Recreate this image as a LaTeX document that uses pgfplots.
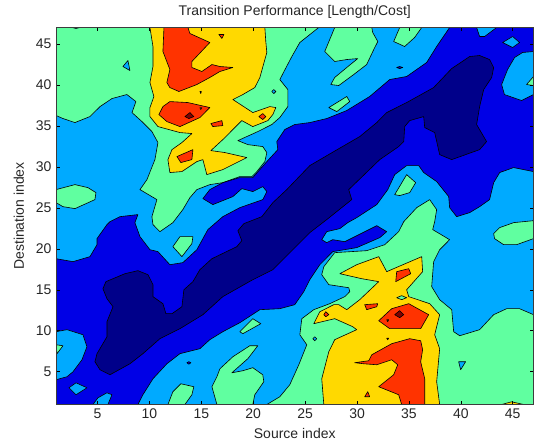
\documentclass[border=0pt]{standalone}
\usepackage{pgfplots}
\usepackage{fontspec}
\setmainfont{Liberation Sans}
\pgfplotsset{compat=1.18}
\definecolor{cNavy}{HTML}{00008A}
\definecolor{cBlue}{HTML}{0000E6}
\definecolor{cCyan}{HTML}{00AAFF}
\definecolor{cGreen}{HTML}{60FFA0}
\definecolor{cYellow}{HTML}{FFD900}
\definecolor{cRed}{HTML}{FF3300}
\definecolor{cDark}{HTML}{800000}
\definecolor{cText}{HTML}{262626}
\pgfplotsset{
  lev/.style={draw=black,line width=0.6pt,line join=round,fill=#1},
}
\begin{document}
\begin{tikzpicture}[x=1pt,y=1pt]
\useasboundingbox (0,0) rectangle (534,444);
\begin{axis}[
  at={(56pt,39.5pt)},anchor=south west,
  scale only axis,width=477.5pt,height=377pt,
  xmin=1,xmax=47,ymin=1,ymax=47,
  xtick={5,10,...,45},ytick={5,10,...,45},
  tick align=inside,tick pos=both,
  major tick length=4pt,
  tick style={color=black,line width=0.5pt},
  axis line style={color=cText!90,line width=1pt},
  axis on top,
  /pgf/number format/assume math mode=true,
  tick label style={font=\fontsize{14}{16}\selectfont,text=cText},
  xticklabel style={yshift=-1pt},
  yticklabel style={xshift=-1pt},
  title={Transition Performance [Length/Cost]},
  title style={font=\fontsize{14}{16}\selectfont,text=cText,yshift=0pt},
  xlabel={Source index},
  ylabel={Destination index},
  label style={font=\fontsize{14}{16}\selectfont,text=cText},
  xlabel style={yshift=-3pt},
  ylabel style={yshift=5pt},
]
% background level
\addplot[fill=cCyan,draw=none] coordinates {(1,1)(47,1)(47,47)(1,47)} --cycle;
% green level
\addplot[lev=cGreen] coordinates {(1,47)(26.31,47)(24.49,45.17)(23.72,43.46)(22.56,40.65)(23.33,39.43)(23.33,37.35)(22.56,36.01)(21.79,35.16)(20.44,34.30)(18.52,33.20)(19.48,32.71)(20.92,32.47)(21.31,31.74)(21.12,30.64)(20.35,29.42)(19.87,28.81)(18.71,28.81)(17.07,28.07)(15.82,27.83)(14.57,27.22)(13.90,26.24)(13.22,24.78)(12.26,23.19)(11.01,22.09)(10.34,22.95)(10.24,23.92)(10.72,26.00)(9.09,27.22)(9.76,28.44)(10.53,30.88)(10.82,32.96)(10.24,34.30)(9.28,35.52)(8.32,36.62)(8.70,37.96)(7.83,38.82)(6.39,38.33)(5.24,37.35)(4.27,36.13)(2.83,35.40)(1.67,35.89)(1,36.26)} --cycle;
\addplot[lev=cGreen] coordinates {(27.85,47)(27.37,45.53)(26.89,44.07)(27.85,42.85)(29.01,43.09)(30.07,43.21)(29.01,42.12)(27.85,40.9)(27.47,40.04)(28.24,39.92)(29.68,41.26)(30.93,42.48)(31.61,44.31)(32.0,45.29)(31.51,46.39)(31.42,47)} --cycle;
\addplot[lev=cGreen] coordinates {(34.11,47)(33.53,45.29)(34.59,44.68)(35.55,45.78)(36.23,47)} --cycle;
\addplot[lev=cGreen] coordinates {(27.28,37.23)(29.01,38.58)(29.30,37.96)(28.05,36.74)} --cycle;
\addplot[lev=cGreen] coordinates {(21.31,1)(22.56,1.95)(23.52,3.41)(24.39,5.85)(25.16,8.29)(24.49,9.51)(24.68,11.47)(25.83,12.57)(27.37,13.30)(28.82,14.16)(29.30,14.77)(29.20,15.25)(27.28,15.62)(26.60,16.84)(26.80,17.82)(27.85,19.53)(30.93,19.77)(32.67,20.50)(34.01,22.09)(34.5,23.31)(35.75,25.02)(37.0,26.0)(37.67,24.78)(37.48,23.31)(37.29,22.34)(38.92,21.11)(37.96,19.89)(37.38,18.43)(37.19,15.38)(37.96,13.79)(39.12,12.57)(39.31,9.88)(39.89,9.39)(41.81,10.13)(43.16,11.96)(44.41,12.69)(45.66,12.69)(47,11.96)(47,1)} --cycle;
\addplot[lev=cGreen] coordinates {(43.16,21.85)(43.74,22.58)(45.08,23.19)(47,23.43)(47,21.24)(45.37,20.50)(44.12,20.50)(43.25,21.24)} --cycle;
\addplot[lev=cGreen] coordinates {(1,27.22)(2.83,27.83)(4.08,27.46)(4.85,26.85)(4.75,26.0)(2.83,24.90)(1.67,25.14)(1,25.63)} --cycle;
\addplot[lev=cGreen] coordinates {(12.26,20.26)(12.94,21.48)(14.19,21.48)(14.09,20.63)(13.13,19.04)} --cycle;
\addplot[lev=cGreen] coordinates {(18.71,9.88)(19.96,11.47)(20.73,10.86)(19.0,9.64)} --cycle;
\addplot[lev=cGreen] coordinates {(11.78,1)(12.26,2.56)(13.03,3.53)(14.28,3.17)(14.09,2.19)(13.42,1)} --cycle;
\addplot[lev=cGreen] coordinates {(16.50,1)(16.02,3.17)(16.50,4.39)(16.79,5.36)(18.04,6.83)(19.67,8.17)(20.44,8.17)(19.48,6.59)(17.94,4.87)(19.0,5.12)(19.96,5.49)(20.92,4.63)(21.02,3.78)(20.15,2.19)(19.96,1)} --cycle;
\addplot[lev=cGreen] coordinates {(33.63,26.61)(34.78,29.05)(35.65,28.07)(35.07,26.85)(34.11,26.49)} --cycle;
% yellow level
\addplot[lev=cYellow] coordinates {(10.05,47)(21.12,47)(21.21,45.29)(21.31,43.95)(20.64,40.9)(20.15,39.67)(19.0,38.82)(18.04,38.21)(19.96,36.62)(21.60,37.35)(22.18,37.23)(21.89,36.38)(21.41,35.64)(19.96,34.91)(18.90,35.64)(17.07,33.32)(15.92,31.98)(17.27,31.74)(19.38,31.13)(17.07,29.66)(15.53,29.05)(15.15,30.88)(14.57,30.64)(13.13,29.42)(11.97,29.30)(11.78,30.88)(12.17,32.10)(13.13,32.96)(14.09,34.06)(12.94,34.18)(10.82,34.91)(10.05,36.13)(10.05,37.23)(10.43,38.58)(10.05,40.28)(10.34,42.24)(10.34,44.68)} --cycle;
\addplot[lev=cYellow] coordinates {(26.80,1)(26.60,4.14)(27.28,7.44)(27.85,8.91)(29.97,10.13)(29.59,10.49)(27.85,11.47)(25.83,10.86)(26.41,12.32)(27.76,13.18)(28.24,13.18)(29.01,12.57)(30.26,13.79)(32.09,15.99)(30.45,16.35)(28.34,16.96)(29.97,18.06)(32.09,19.04)(32.86,17.21)(36.23,19.04)(36.32,17.21)(34.78,15.0)(34.98,14.16)(37.0,13.30)(37.96,11.96)(37.48,9.51)(37.96,7.81)(37.67,3.78)(37.96,1)} --cycle;
% red level
\addplot[lev=cRed] coordinates {(11.40,47)(11.30,44.07)(11.97,41.87)(11.68,40.28)(11.97,39.67)(12.84,39.19)(14.57,40.04)(15.82,40.9)(16.79,41.63)(18.04,42.12)(16.79,42.24)(16.02,42.48)(15.05,41.63)(14.09,42.12)(14.09,42.85)(15.82,45.17)(13.90,46.27)(13.71,47)} --cycle;
\addplot[lev=cRed] coordinates {(10.91,36.38)(11.30,37.35)(11.97,37.96)(13.71,37.84)(15.82,37.23)(14.86,36.01)(12.94,34.91)(11.68,35.52)} --cycle;
\addplot[lev=cRed] coordinates {(15.92,35.28)(16.98,35.64)(17.07,35.03)(16.11,34.91)} --cycle;
\addplot[lev=cRed] coordinates {(12.65,31.25)(14.19,32.10)(14.09,30.88)(13.03,30.52)} --cycle;
\addplot[lev=cRed] coordinates {(16.69,46.15)(17.17,46.15)(16.98,45.66)} --cycle;
\addplot[lev=cRed] coordinates {(20.54,36.13)(20.92,36.5)(21.21,36.13)(20.92,35.77)} --cycle;
\addplot[lev=cRed] coordinates {(33.73,15.99)(33.82,17.21)(34.98,17.57)(35.17,16.96)} --cycle;
\addplot[lev=cRed] coordinates {(30.74,13.18)(31.99,13.30)(31.90,12.93)(30.93,12.57)} --cycle;
\addplot[lev=cRed] coordinates {(32.09,11.22)(33.34,12.69)(34.98,13.30)(36.9,11.96)(36.13,10.25)(33.15,10.25)} --cycle;
\addplot[lev=cRed] coordinates {(29.78,6.10)(31.13,6.34)(31.42,7.07)(33.34,8.42)(35.07,9.03)(36.13,8.78)(36.32,7.68)(36.13,6.22)(36.52,4.14)(36.52,1)(34.30,1)(34.01,2.19)(32.09,3.17)(33.53,4.63)(33.92,5.85)(33.34,6.46)(31.90,5.85)(30.65,5.97)} --cycle;
\addplot[lev=cRed] coordinates {(30.74,1.95)(31.03,2.56)(31.22,1.95)} --cycle;
\addplot[lev=cRed] coordinates {(26.80,11.96)(26.99,12.32)(27.28,11.96)(26.99,11.71)} --cycle;
\addplot[lev=cRed] coordinates {(14.86,39.19)(15.0,39.19)(14.95,38.94)} --cycle;
\addplot[lev=cRed] coordinates {(32.86,9.09)(33.05,9.09)(32.95,8.9)} --cycle;
% darkest level
\addplot[lev=cDark] coordinates {(13.42,36.13)(13.90,36.62)(14.28,36.13)(13.80,35.89)} --cycle;
\addplot[lev=cDark] coordinates {(33.63,11.96)(34.11,12.45)(34.5,11.96)(34.11,11.59)} --cycle;
% small holes
\addplot[lev=cYellow] coordinates {(14.86,37.23)(15.05,37.23)(14.95,36.99)} --cycle;
\addplot[lev=cYellow] coordinates {(32.86,11.34)(33.05,11.34)(32.95,11.10)} --cycle;
\addplot[lev=cYellow] coordinates {(43.93,1)(44.89,1.33)(46.05,1)} --cycle;
\addplot[lev=cGreen] coordinates {(33.82,14.03)(34.30,14.28)(34.78,14.03)(34.30,13.79)} --cycle;
\addplot[lev=cCyan] coordinates {(21.79,39.19)(21.98,39.43)(22.18,39.19)(21.98,38.94)} --cycle;
\addplot[lev=cCyan] coordinates {(25.74,9.03)(25.93,9.27)(26.12,9.03)(25.93,8.78)} --cycle;
\addplot[lev=cCyan] coordinates {(7.45,42.24)(7.93,42.97)(8.12,41.75)} --cycle;
\addplot[lev=cCyan] coordinates {(39.79,6.22)(40.46,6.22)(39.98,5.24)} --cycle;
\addplot[lev=cCyan] coordinates {(2.54,47)(2.93,46.88)(3.31,47)} --cycle;
% blue level
\addplot[lev=cBlue] coordinates {(1,18.79)(2.64,18.43)(4.27,19.04)(4.95,20.50)(4.95,21.24)(5.91,22.95)(6.20,23.31)(7.16,23.92)(8.89,24.17)(8.60,23.19)(9.09,21.48)(10.05,19.89)(10.82,19.65)(11.97,18.06)(13.22,18.31)(14.57,19.89)(15.63,22.34)(17.07,23.92)(18.71,25.02)(20.92,26.0)(21.31,26.98)(20.92,27.59)(19.96,26.98)(18.90,27.34)(18.04,26.37)(16.11,25.39)(15.15,26.12)(15.82,27.22)(17.07,28.07)(18.71,28.69)(19.96,28.69)(21.31,30.64)(22.37,32.10)(22.27,33.08)(23.04,34.55)(24.00,35.16)(25.45,35.40)(27.08,35.89)(29.01,36.87)(31.22,38.58)(33.15,40.65)(34.78,41.02)(36.71,42.73)(37.67,44.68)(38.92,47)(47,47)(47,29.42)(45.08,29.91)(43.74,29.30)(43.16,28.07)(42.77,26.0)(41.81,25.14)(40.85,24.41)(39.60,23.92)(38.92,25.02)(38.83,26.37)(37.67,28.20)(36.42,29.30)(35.94,30.15)(34.78,30.15)(33.63,29.05)(32.96,27.22)(31.90,25.39)(29.97,23.80)(29.11,23.19)(28.34,22.46)(27.08,22.09)(26.60,21.11)(27.08,20.75)(27.66,21.11)(28.82,20.87)(31.90,22.82)(32.86,22.09)(32.19,21.36)(29.97,20.14)(27.66,19.65)(26.41,18.06)(25.45,16.23)(24.87,14.77)(24.0,13.18)(22.56,12.69)(20.64,12.57)(18.71,10.98)(17.07,9.88)(15.82,8.91)(14.86,7.81)(12.94,7.2)(11.68,5.97)(10.34,4.14)(9.37,2.19)(8.89,1)(1,1)} --cycle;
\addplot[lev=cBlue] coordinates {(33.82,42.12)(34.11,42.24)(34.40,42.12)(34.11,41.99)} --cycle;
\addplot[lev=cBlue] coordinates {(13.61,6.1)(13.8,6.22)(13.99,6.1)(13.8,5.91)} --cycle;
% navy level
\addplot[lev=cNavy] coordinates {(5.52,15.13)(5.81,15.99)(7.64,16.96)(8.89,17.33)(9.86,16.84)(10.34,15.62)(10.34,14.16)(11.30,13.30)(11.59,12.08)(12.17,12.08)(13.13,12.93)(13.32,15.0)(14.19,15.99)(14.86,17.45)(16.02,18.79)(18.42,20.26)(18.90,20.99)(18.52,22.21)(19.10,23.07)(20.83,23.92)(21.89,25.63)(23.23,27.22)(25.45,30.15)(27.76,31.86)(30.26,33.69)(31.90,35.40)(32.86,36.62)(34.78,37.84)(37.38,39.67)(39.12,41.99)(40.85,43.46)(41.81,43.58)(42.77,43.09)(43.16,42.12)(42.97,40.9)(42.2,39.43)(41.81,37.35)(41.52,35.16)(42.48,33.08)(41.81,32.10)(39.12,30.88)(37.96,31.49)(37.48,34.18)(36.52,34.79)(36.42,36.13)(35.07,35.64)(34.59,34.91)(34.5,33.08)(34.01,32.47)(32.19,30.88)(29.2,27.22)(29.49,26.0)(27.08,23.56)(25.45,21.97)(23.81,19.89)(21.89,17.45)(19.96,16.23)(17.07,14.16)(15.15,11.96)(12.94,10.25)(11.01,9.03)(9.37,7.2)(8.12,5.97)(6.2,4.63)(5.24,5.24)(4.75,6.22)(4.95,7.2)(5.91,9.27)(5.91,11.10)(6.49,12.93)(5.91,13.91)} --cycle;
% islands inside the blue level
\addplot[lev=cCyan] coordinates {(1,9.88)(2.06,10.13)(3.60,9.51)(3.98,8.05)(3.50,6.46)(2.64,5.0)(2.06,4.39)(1,4.02)} --cycle;
\addplot[lev=cCyan] coordinates {(2.25,3.04)(2.93,3.65)(3.98,3.04)(2.93,2.19)} --cycle;
\addplot[lev=cCyan] coordinates {(4.56,1)(5.04,1.82)(5.91,2.43)(6.39,2.19)(6.0,1)} --cycle;
\addplot[lev=cCyan] coordinates {(41.52,47)(41.81,45.9)(42.29,45.9)(43.45,47)} --cycle;
\addplot[lev=cCyan] coordinates {(44.02,45.17)(44.99,45.9)(45.66,45.17)(44.99,44.56)} --cycle;
\addplot[lev=cCyan] coordinates {(47,44.07)(45.95,43.95)(45.18,43.34)(44.5,41.87)(43.93,40.04)(44.2,38.82)(45.85,38.09)(47,38.82)} --cycle;
\addplot[lev=cGreen] coordinates {(46.33,40.04)(47,41.02)(47,39.92)} --cycle;
\addplot[lev=cGreen] coordinates {(1,8.29)(1.67,8.17)(1.1,7.2)} --cycle;
\end{axis}
\end{tikzpicture}
\end{document}
